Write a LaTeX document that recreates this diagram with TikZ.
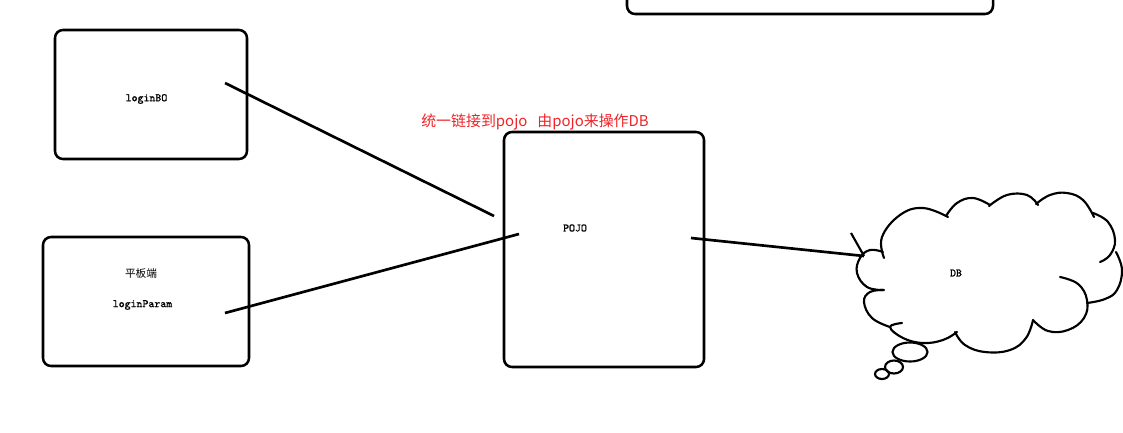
\documentclass[tikz,border=0pt]{standalone}
\usepackage{fontspec}
\newfontfamily\cjk{Noto Sans CJK SC}
\newfontfamily\lblfont{lmmono10-regular}[Extension=.otf, FakeBold=1.2]
\definecolor{notered}{RGB}{240,36,40}
\begin{document}
\begin{tikzpicture}[x=0.75pt,y=-0.75pt,
  box/.style={draw, line width=1.9pt, rounded corners=6pt, inner sep=0pt},
  lbl/.style={font=\lblfont\fontsize{8.5}{10}\selectfont, inner sep=0pt},
  conn/.style={line width=2pt},
  cloudline/.style={line width=1.6pt, line cap=round}]
\useasboundingbox (0,0) rectangle (1123,432);
\fill[white] (0,0) rectangle (1123,432);
\begin{scope}
\clip (0,0) rectangle (1123,432);
\node[box, minimum width=274.5pt, minimum height=33pt] (top) at (810,-8) {};
\end{scope}
\node[box, minimum width=144pt, minimum height=96.75pt] (bo) at (151,94.5) {};
\node[box, minimum width=154.5pt, minimum height=96.75pt] (tab) at (146,301.5) {};
\node[box, minimum width=150pt, minimum height=176.25pt] (pojo) at (604,249.5) {};
\node[lbl] (bot) at (146.5,99) {loginBO};
\node[inner sep=0pt, font=\cjk\fontsize{8}{9}\selectfont] (tabt) at (141,273) {平板端};
\node[lbl] (lpt) at (142.5,305) {loginParam};
\node[lbl] (pojot) at (575,228) {POJO};
\node[lbl] (dbt) at (956,273) {DB};
\node[inner sep=0pt, text=notered, font=\cjk\fontsize{11.2}{13}\selectfont] (note) at (535,122) {统一链接到pojo\ \ \ 由pojo来操作DB};
% connector end points
\coordinate (a1) at (225,83);
\coordinate (a2) at (494,216);
\coordinate (b1) at (225,313);
\coordinate (b2) at (519,234);
\coordinate (c1) at (691,238);
\coordinate (c2) at (864,256);
\coordinate (t1) at (851,233);
\draw[conn] (a1) -- (a2);
\draw[conn] (b1) -- (b2);
\draw[conn] (c1) -- (c2);
\draw[line width=1.6pt] (t1) -- (c2);
% cloud
\begin{scope}[cloudline]
\draw plot[smooth, tension=0.7] coordinates {(883,290) (867,287) (857,273) (860,258) (870,250) (883,252)};
\draw plot[smooth, tension=0.7] coordinates {(884,258) (882,237) (900,215) (923,208) (948,217)};
\draw plot[smooth, tension=0.7] coordinates {(946,216) (957,203) (973,198) (990,205)};
\draw plot[smooth, tension=0.7] coordinates {(989,206) (1007,195) (1027,195) (1038,205)};
\draw plot[smooth, tension=0.7] coordinates {(1036,204) (1050,195) (1067,193) (1083,200) (1094,217)};
\draw plot[smooth, tension=0.7] coordinates {(1093,213) (1108,222) (1115,240) (1110,255) (1100,262)};
\draw plot[smooth, tension=0.7] coordinates {(1116,252) (1122,270) (1117,290) (1105,299) (1087,303)};
\draw plot[smooth, tension=0.7] coordinates {(1060,277) (1078,284) (1087,300) (1084,318) (1068,330) (1048,331) (1033,320)};
\draw plot[smooth, tension=0.7] coordinates {(1033,320) (1026,338) (1010,350) (985,352) (965,345) (955,332)};
\draw plot[smooth, tension=0.7] coordinates {(957,332) (943,340) (923,343) (903,338) (890,327) (902,323)};
\draw plot[smooth, tension=0.7] coordinates {(890,327) (872,318) (864,302) (870,292) (884,290)};
\draw (910,352) ellipse [x radius=17.5, y radius=9.5];
\draw (894,367) ellipse [x radius=9, y radius=6.5];
\draw (882,374) ellipse [x radius=7, y radius=5];
\end{scope}
\end{tikzpicture}
\end{document}
